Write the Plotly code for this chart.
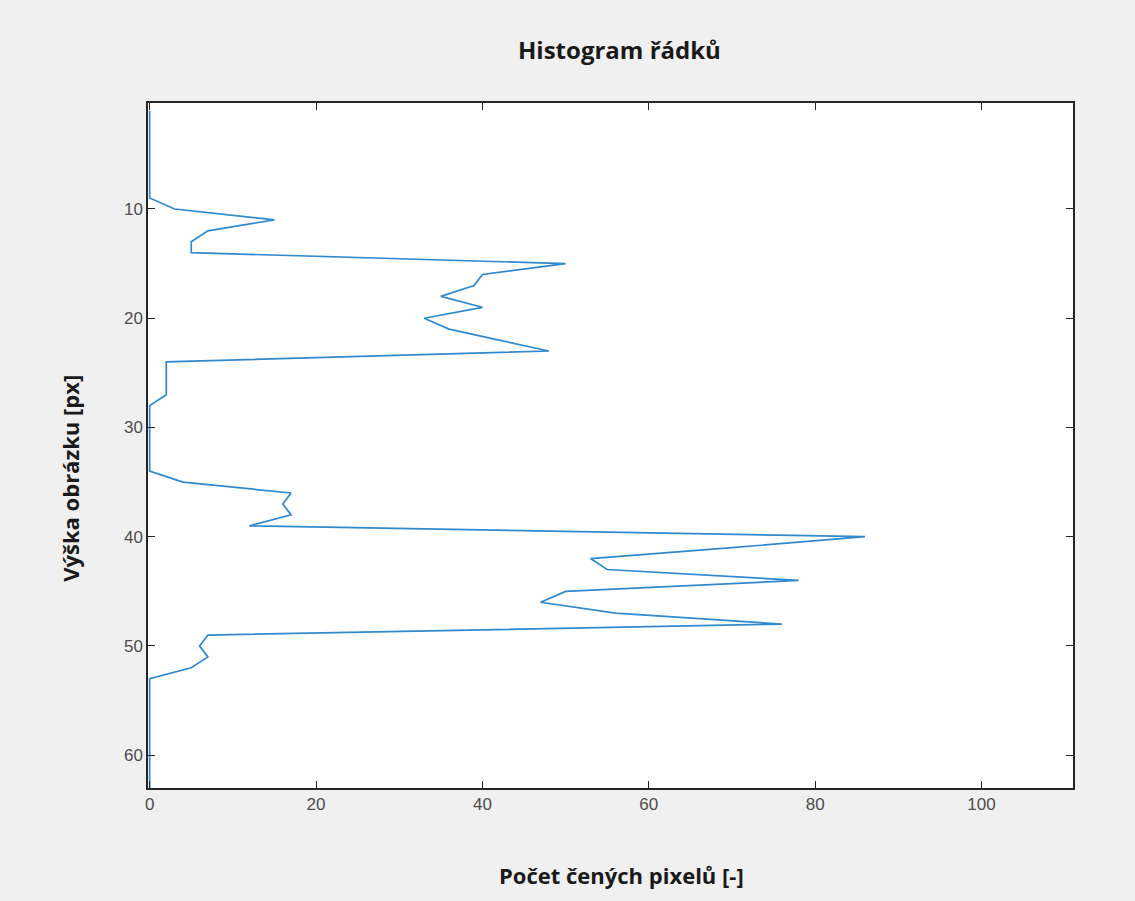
import plotly.graph_objects as go

rows = list(range(1, 64))
counts = [0, 0, 0, 0, 0, 0, 0, 0, 0,
          3, 15, 7, 5, 5, 50, 40, 39, 35, 40, 33, 36, 42, 48,
          2, 2, 2, 2, 0, 0, 0, 0, 0, 0, 0,
          4, 17, 16, 17, 12, 86, 70, 53, 55, 78, 50, 47, 56, 76,
          7, 6, 7, 5,
          0, 0, 0, 0, 0, 0, 0, 0, 0, 0, 0]
x_ticks = [0, 20, 40, 60, 80, 100]
y_ticks = [10, 20, 30, 40, 50, 60]

title_text = "Histogram řádků"
x_title = "Počet čených pixelů [-]"
y_title = "Výška obrázku [px]"

label_font = "Open Sans, Noto Sans, sans-serif"

fig = go.Figure()
fig.add_trace(go.Scatter(x=counts, y=rows, mode="lines",
                         line=dict(color="#2f89cf", width=1.7),
                         showlegend=False, hoverinfo="skip", cliponaxis=False))

axis_common = dict(
    showline=True, linecolor="#262626", linewidth=1.5, mirror="allticks",
    ticks="inside", ticklen=7, tickwidth=1.2, tickcolor="#262626",
    showgrid=False, zeroline=False,
    tickfont=dict(family="Liberation Sans, Arial, sans-serif", size=17, color="#4d4d4d"),
)

fig.update_layout(
    width=1135, height=901,
    margin=dict(l=148, r=62, t=103, b=113),
    paper_bgcolor="#f0f0f0", plot_bgcolor="#ffffff",
    xaxis=dict(range=[-0.2, 111], tickvals=x_ticks, ticktext=[str(v) for v in x_ticks],
               **axis_common),
    yaxis=dict(range=[63, 0.3], tickvals=y_ticks, ticktext=[str(v) for v in y_ticks],
               **axis_common),
    annotations=[
        dict(text="<b>" + title_text + "</b>", xref="paper", yref="paper",
             x=0.5097, y=1.0774, xanchor="center", yanchor="middle", showarrow=False,
             font=dict(family=label_font, size=24, color="#1a1a1a")),
        dict(text="<b>" + x_title + "</b>", xref="paper", yref="paper",
             x=0.5119, y=-0.127, xanchor="center", yanchor="middle", showarrow=False,
             font=dict(family=label_font, size=22, color="#1a1a1a")),
        dict(text="<b>" + y_title + "</b>", xref="paper", yref="paper",
             x=-0.0845, y=0.4526, xanchor="center", yanchor="middle", showarrow=False,
             textangle=-90,
             font=dict(family=label_font, size=22, color="#1a1a1a")),
    ],
)

fig.write_html("out.html")
